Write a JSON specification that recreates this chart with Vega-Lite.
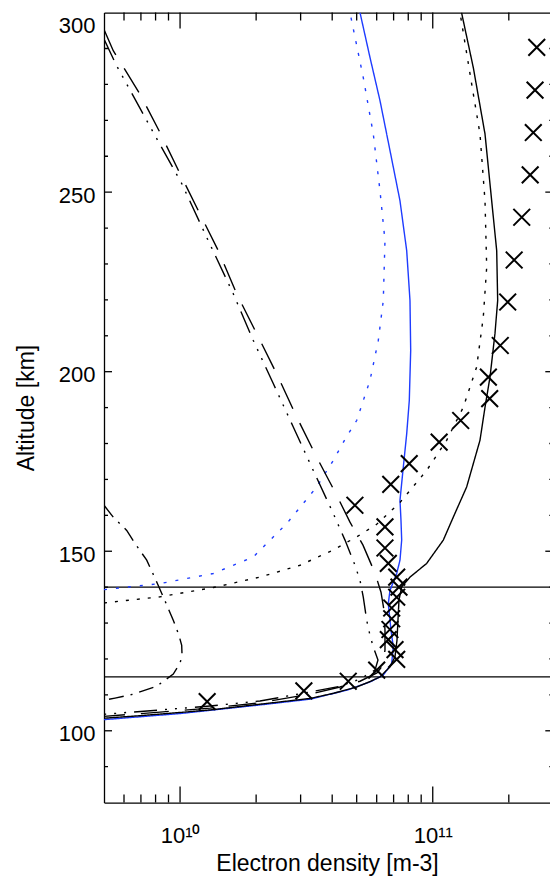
{
  "$schema": "https://vega.github.io/schema/vega-lite/v6.json",
  "width": 446,
  "height": 790,
  "autosize": "none",
  "padding": {"left": 104, "top": 12.6, "right": 0, "bottom": 79.4},
  "background": "white",
  "config": {
    "view": {"stroke": null},
    "axis": {
      "grid": false,
      "labelFont": "Liberation Sans",
      "titleFont": "Liberation Sans",
      "labelColor": "black",
      "titleColor": "black",
      "titleFontWeight": "normal",
      "labelFontWeight": "normal",
      "labelFontSize": 22,
      "titleFontSize": 23,
      "domainColor": "black",
      "domainWidth": 1.3
    }
  },
  "datasets": {
    "curves": [
      {"s": "blue_solid", "n": 5.0e9, "alt": 103.1},
      {"s": "blue_solid", "n": 1.0e10, "alt": 104.8},
      {"s": "blue_solid", "n": 2.072e10, "alt": 107.2},
      {"s": "blue_solid", "n": 3.267e10, "alt": 108.8},
      {"s": "blue_solid", "n": 4.565e10, "alt": 111.3},
      {"s": "blue_solid", "n": 5.645e10, "alt": 113.6},
      {"s": "blue_solid", "n": 6.372e10, "alt": 115.5},
      {"s": "blue_solid", "n": 6.879e10, "alt": 118.8},
      {"s": "blue_solid", "n": 6.98e10, "alt": 123.4},
      {"s": "blue_solid", "n": 6.835e10, "alt": 128.0},
      {"s": "blue_solid", "n": 6.773e10, "alt": 130.8},
      {"s": "blue_solid", "n": 6.669e10, "alt": 135.4},
      {"s": "blue_solid", "n": 6.773e10, "alt": 139.1},
      {"s": "blue_solid", "n": 7.2e10, "alt": 143.8},
      {"s": "blue_solid", "n": 7.419e10, "alt": 147.5},
      {"s": "blue_solid", "n": 7.535e10, "alt": 153.1},
      {"s": "blue_solid", "n": 7.487e10, "alt": 158.6},
      {"s": "blue_solid", "n": 7.419e10, "alt": 164.2},
      {"s": "blue_solid", "n": 7.646e10, "alt": 173.4},
      {"s": "blue_solid", "n": 7.887e10, "alt": 182.7},
      {"s": "blue_solid", "n": 8.076e10, "alt": 192.0},
      {"s": "blue_solid", "n": 8.179e10, "alt": 205.9},
      {"s": "blue_solid", "n": 8.127e10, "alt": 219.8},
      {"s": "blue_solid", "n": 7.887e10, "alt": 233.7},
      {"s": "blue_solid", "n": 7.419e10, "alt": 247.6},
      {"s": "blue_solid", "n": 6.773e10, "alt": 261.6},
      {"s": "blue_solid", "n": 6.183e10, "alt": 275.5},
      {"s": "blue_solid", "n": 5.645e10, "alt": 287.5},
      {"s": "blue_solid", "n": 5.153e10, "alt": 300.0},

      {"s": "black_solid", "n": 5.0e9, "alt": 103.5},
      {"s": "black_solid", "n": 6.94e9, "alt": 104.2},
      {"s": "black_solid", "n": 1.0e10, "alt": 105.1},
      {"s": "black_solid", "n": 1.314e10, "alt": 105.8},
      {"s": "black_solid", "n": 2.072e10, "alt": 107.4},
      {"s": "black_solid", "n": 3.267e10, "alt": 109.0},
      {"s": "black_solid", "n": 4.029e10, "alt": 110.4},
      {"s": "black_solid", "n": 5.0e10, "alt": 112.2},
      {"s": "black_solid", "n": 5.645e10, "alt": 113.7},
      {"s": "black_solid", "n": 6.183e10, "alt": 115.0},
      {"s": "black_solid", "n": 6.773e10, "alt": 117.8},
      {"s": "black_solid", "n": 7.089e10, "alt": 120.6},
      {"s": "black_solid", "n": 7.219e10, "alt": 125.2},
      {"s": "black_solid", "n": 7.285e10, "alt": 130.8},
      {"s": "black_solid", "n": 7.352e10, "alt": 136.4},
      {"s": "black_solid", "n": 7.535e10, "alt": 140.1},
      {"s": "black_solid", "n": 8.127e10, "alt": 142.8},
      {"s": "black_solid", "n": 9.46e10, "alt": 146.6},
      {"s": "black_solid", "n": 1.101e11, "alt": 153.1},
      {"s": "black_solid", "n": 1.206e11, "alt": 159.5},
      {"s": "black_solid", "n": 1.362e11, "alt": 167.9},
      {"s": "black_solid", "n": 1.538e11, "alt": 180.9},
      {"s": "black_solid", "n": 1.61e11, "alt": 190.1},
      {"s": "black_solid", "n": 1.685e11, "alt": 198.5},
      {"s": "black_solid", "n": 1.763e11, "alt": 210.6},
      {"s": "black_solid", "n": 1.807e11, "alt": 219.8},
      {"s": "black_solid", "n": 1.791e11, "alt": 233.7},
      {"s": "black_solid", "n": 1.711e11, "alt": 247.6},
      {"s": "black_solid", "n": 1.61e11, "alt": 266.2},
      {"s": "black_solid", "n": 1.447e11, "alt": 284.7},
      {"s": "black_solid", "n": 1.3e11, "alt": 300.0},

      {"s": "black_dotted", "n": 5.0e9, "alt": 135.6},
      {"s": "black_dotted", "n": 8.33e9, "alt": 137.3},
      {"s": "black_dotted", "n": 1.354e10, "alt": 139.9},
      {"s": "black_dotted", "n": 2.072e10, "alt": 142.8},
      {"s": "black_dotted", "n": 2.983e10, "alt": 146.1},
      {"s": "black_dotted", "n": 4.029e10, "alt": 150.3},
      {"s": "black_dotted", "n": 5.0e10, "alt": 154.0},
      {"s": "black_dotted", "n": 6.0e10, "alt": 157.5},
      {"s": "black_dotted", "n": 7.419e10, "alt": 163.6},
      {"s": "black_dotted", "n": 9.46e10, "alt": 172.5},
      {"s": "black_dotted", "n": 1.135e11, "alt": 180.9},
      {"s": "black_dotted", "n": 1.321e11, "alt": 190.1},
      {"s": "black_dotted", "n": 1.492e11, "alt": 201.3},
      {"s": "black_dotted", "n": 1.585e11, "alt": 215.2},
      {"s": "black_dotted", "n": 1.635e11, "alt": 229.1},
      {"s": "black_dotted", "n": 1.61e11, "alt": 247.6},
      {"s": "black_dotted", "n": 1.538e11, "alt": 266.2},
      {"s": "black_dotted", "n": 1.426e11, "alt": 280.1},
      {"s": "black_dotted", "n": 1.282e11, "alt": 300.0},

      {"s": "blue_dotted", "n": 5.0e9, "alt": 139.3},
      {"s": "blue_dotted", "n": 8.33e9, "alt": 141.0},
      {"s": "blue_dotted", "n": 1.354e10, "alt": 143.8},
      {"s": "blue_dotted", "n": 1.949e10, "alt": 148.4},
      {"s": "blue_dotted", "n": 2.642e10, "alt": 157.7},
      {"s": "blue_dotted", "n": 2.983e10, "alt": 162.2},
      {"s": "blue_dotted", "n": 3.473e10, "alt": 167.9},
      {"s": "blue_dotted", "n": 4.04e10, "alt": 175.3},
      {"s": "blue_dotted", "n": 4.565e10, "alt": 182.0},
      {"s": "blue_dotted", "n": 5.0e10, "alt": 186.4},
      {"s": "blue_dotted", "n": 5.645e10, "alt": 197.6},
      {"s": "blue_dotted", "n": 6.088e10, "alt": 208.7},
      {"s": "blue_dotted", "n": 6.372e10, "alt": 219.8},
      {"s": "blue_dotted", "n": 6.471e10, "alt": 236.5},
      {"s": "blue_dotted", "n": 6.183e10, "alt": 250.4},
      {"s": "blue_dotted", "n": 5.817e10, "alt": 266.2},
      {"s": "blue_dotted", "n": 5.31e10, "alt": 281.9},
      {"s": "blue_dotted", "n": 4.704e10, "alt": 300.0},

      {"s": "black_longdash", "n": 5.0e9, "alt": 295.3},
      {"s": "black_longdash", "n": 5.44e9, "alt": 289.4},
      {"s": "black_longdash", "n": 6.94e9, "alt": 277.3},
      {"s": "black_longdash", "n": 8.33e9, "alt": 266.6},
      {"s": "black_longdash", "n": 1.0e10, "alt": 255.1},
      {"s": "black_longdash", "n": 1.199e10, "alt": 243.9},
      {"s": "black_longdash", "n": 1.417e10, "alt": 233.7},
      {"s": "black_longdash", "n": 1.675e10, "alt": 221.7},
      {"s": "black_longdash", "n": 2.01e10, "alt": 210.6},
      {"s": "black_longdash", "n": 2.412e10, "alt": 199.4},
      {"s": "black_longdash", "n": 2.894e10, "alt": 187.4},
      {"s": "black_longdash", "n": 3.473e10, "alt": 176.2},
      {"s": "black_longdash", "n": 4.167e10, "alt": 165.6},
      {"s": "black_longdash", "n": 4.704e10, "alt": 158.1},
      {"s": "black_longdash", "n": 5.296e10, "alt": 151.7},
      {"s": "black_longdash", "n": 5.908e10, "alt": 143.9},
      {"s": "black_longdash", "n": 6.24e10, "alt": 138.6},
      {"s": "black_longdash", "n": 6.413e10, "alt": 133.6},
      {"s": "black_longdash", "n": 6.471e10, "alt": 128.0},
      {"s": "black_longdash", "n": 6.471e10, "alt": 122.5},
      {"s": "black_longdash", "n": 6.354e10, "alt": 118.3},
      {"s": "black_longdash", "n": 6.016e10, "alt": 116.1},
      {"s": "black_longdash", "n": 5.153e10, "alt": 113.8},
      {"s": "black_longdash", "n": 4.294e10, "alt": 112.2},
      {"s": "black_longdash", "n": 3.267e10, "alt": 110.2},
      {"s": "black_longdash", "n": 2.072e10, "alt": 107.8},
      {"s": "black_longdash", "n": 1.314e10, "alt": 106.3},
      {"s": "black_longdash", "n": 8.33e9, "alt": 105.2},
      {"s": "black_longdash", "n": 5.0e9, "alt": 104.0},

      {"s": "black_dashdotdot", "n": 5.0e9, "alt": 292.6},
      {"s": "black_dashdotdot", "n": 5.61e9, "alt": 285.2},
      {"s": "black_dashdotdot", "n": 7.84e9, "alt": 266.6},
      {"s": "black_dashdotdot", "n": 1.015e10, "alt": 252.4},
      {"s": "black_dashdotdot", "n": 1.275e10, "alt": 237.4},
      {"s": "black_dashdotdot", "n": 1.624e10, "alt": 221.7},
      {"s": "black_dashdotdot", "n": 1.949e10, "alt": 208.7},
      {"s": "black_dashdotdot", "n": 2.338e10, "alt": 196.7},
      {"s": "black_dashdotdot", "n": 2.806e10, "alt": 184.6},
      {"s": "black_dashdotdot", "n": 3.367e10, "alt": 172.5},
      {"s": "black_dashdotdot", "n": 4.04e10, "alt": 160.5},
      {"s": "black_dashdotdot", "n": 4.495e10, "alt": 153.1},
      {"s": "black_dashdotdot", "n": 4.923e10, "alt": 146.1},
      {"s": "black_dashdotdot", "n": 5.153e10, "alt": 141.9},
      {"s": "black_dashdotdot", "n": 5.31e10, "alt": 137.2},
      {"s": "black_dashdotdot", "n": 5.477e10, "alt": 130.8},
      {"s": "black_dashdotdot", "n": 5.645e10, "alt": 126.6},
      {"s": "black_dashdotdot", "n": 5.817e10, "alt": 123.3},
      {"s": "black_dashdotdot", "n": 6.071e10, "alt": 119.7},
      {"s": "black_dashdotdot", "n": 5.908e10, "alt": 116.9},
      {"s": "black_dashdotdot", "n": 5.153e10, "alt": 114.4},
      {"s": "black_dashdotdot", "n": 4.294e10, "alt": 112.4},
      {"s": "black_dashdotdot", "n": 3.267e10, "alt": 110.8},
      {"s": "black_dashdotdot", "n": 2.072e10, "alt": 108.3},
      {"s": "black_dashdotdot", "n": 1.314e10, "alt": 106.9},
      {"s": "black_dashdotdot", "n": 8.33e9, "alt": 105.8},
      {"s": "black_dashdotdot", "n": 5.0e9, "alt": 104.6},

      {"s": "black_dashdot", "n": 5.0e9, "alt": 162.8},
      {"s": "black_dashdot", "n": 5.44e9, "alt": 159.5},
      {"s": "black_dashdot", "n": 6.15e9, "alt": 155.8},
      {"s": "black_dashdot", "n": 6.63e9, "alt": 152.2},
      {"s": "black_dashdot", "n": 7.38e9, "alt": 147.5},
      {"s": "black_dashdot", "n": 7.96e9, "alt": 142.5},
      {"s": "black_dashdot", "n": 8.58e9, "alt": 137.3},
      {"s": "black_dashdot", "n": 9.4e9, "alt": 130.8},
      {"s": "black_dashdot", "n": 9.9e9, "alt": 126.6},
      {"s": "black_dashdot", "n": 1.015e10, "alt": 123.8},
      {"s": "black_dashdot", "n": 1.018e10, "alt": 121.1},
      {"s": "black_dashdot", "n": 1.0e10, "alt": 118.8},
      {"s": "black_dashdot", "n": 9.4e9, "alt": 115.8},
      {"s": "black_dashdot", "n": 8.08e9, "alt": 112.4},
      {"s": "black_dashdot", "n": 6.53e9, "alt": 110.2},
      {"s": "black_dashdot", "n": 5.53e9, "alt": 109.1},
      {"s": "black_dashdot", "n": 5.0e9, "alt": 108.5}
    ],
    "crosses": [
      {"n": 2.58e11, "alt": 290.3},
      {"n": 2.54e11, "alt": 278.4},
      {"n": 2.5e11, "alt": 266.6},
      {"n": 2.43e11, "alt": 254.8},
      {"n": 2.25e11, "alt": 243.0},
      {"n": 2.1e11, "alt": 231.1},
      {"n": 1.98e11, "alt": 219.4},
      {"n": 1.85e11, "alt": 207.3},
      {"n": 1.66e11, "alt": 198.5},
      {"n": 1.68e11, "alt": 192.5},
      {"n": 1.29e11, "alt": 186.4},
      {"n": 1.06e11, "alt": 180.4},
      {"n": 8.07e10, "alt": 174.4},
      {"n": 6.82e10, "alt": 168.6},
      {"n": 4.92e10, "alt": 162.8},
      {"n": 6.47e10, "alt": 156.8},
      {"n": 6.47e10, "alt": 150.9},
      {"n": 6.67e10, "alt": 146.6},
      {"n": 7.2e10, "alt": 142.8},
      {"n": 7.35e10, "alt": 140.0},
      {"n": 7.2e10, "alt": 137.2},
      {"n": 6.88e10, "alt": 134.2},
      {"n": 6.88e10, "alt": 131.2},
      {"n": 6.77e10, "alt": 128.2},
      {"n": 6.67e10, "alt": 125.4},
      {"n": 7.09e10, "alt": 122.6},
      {"n": 7.2e10, "alt": 119.9},
      {"n": 6.0e10, "alt": 116.9},
      {"n": 4.63e10, "alt": 113.8},
      {"n": 3.09e10, "alt": 111.1},
      {"n": 1.28e10, "alt": 108.1}
    ],
    "levels": [
      {"alt": 140},
      {"alt": 115}
    ],
    "xmajor": [{"v": 1e10}, {"v": 1e11}],
    "xminor": [{"v": 6e9}, {"v": 7e9}, {"v": 8e9}, {"v": 9e9}, {"v": 2e10}, {"v": 3e10}, {"v": 4e10}, {"v": 5e10}, {"v": 6e10}, {"v": 7e10}, {"v": 8e10}, {"v": 9e10}, {"v": 2e11}],
    "ymajor": [{"v": 100}, {"v": 150}, {"v": 200}, {"v": 250}],
    "yminor": [{"v": 90}, {"v": 110}, {"v": 120}, {"v": 130}, {"v": 140}, {"v": 160}, {"v": 170}, {"v": 180}, {"v": 190}, {"v": 210}, {"v": 220}, {"v": 230}, {"v": 240}, {"v": 260}, {"v": 270}, {"v": 280}, {"v": 290}]
  },
  "layer": [
    {
      "data": {"name": "levels"},
      "mark": {"type": "rule", "color": "black", "strokeWidth": 1.3},
      "encoding": {
        "y": {"field": "alt", "type": "quantitative", "scale": {"domain": [80, 300], "nice": false, "zero": false}, "axis": null}
      }
    },
    {
      "data": {"name": "curves"},
      "transform": [{"filter": {"field": "s", "oneOf": ["blue_solid", "black_solid"]}}],
      "mark": {"type": "line", "strokeWidth": 1.4, "clip": true},
      "encoding": {
        "x": {
          "field": "n", "type": "quantitative",
          "scale": {"type": "log", "domain": [5e9, 2.911e11], "nice": false},
          "axis": {
            "orient": "bottom",
            "values": [1e10, 1e11],
            "ticks": false,
            "tickSize": 0,
            "domain": true,
            "domainColor": "black",
            "domainWidth": 1.3,
            "labelExpr": "datum.value == 1e10 ? '10\u00b9\u2070' : (datum.value == 1e11 ? '10\u00b9\u00b9' : '')",
            "labelFont": "Liberation Sans",
            "labelFontSize": 22,
            "labelFontWeight": "normal",
            "labelColor": "black",
            "labelPadding": 23,
            "labelFlush": false,
            "labelOverlap": false,
            "title": "Electron density [m-3]",
            "titleFont": "Liberation Sans",
            "titleFontSize": 23,
            "titleFontWeight": "normal",
            "titleColor": "black",
            "titlePadding": 6
          }
        },
        "y": {
          "field": "alt", "type": "quantitative",
          "scale": {"domain": [80, 300], "nice": false, "zero": false},
          "axis": {
            "orient": "left",
            "values": [100, 150, 200, 250, 300],
            "ticks": false,
            "tickSize": 0,
            "domain": true,
            "domainColor": "black",
            "domainWidth": 1.3,
            "labelFont": "Liberation Sans",
            "labelFontSize": 22,
            "labelFontWeight": "normal",
            "labelColor": "black",
            "labelPadding": 9,
            "labelOffset": 3,
            "labelFlush": true,
            "labelOverlap": false,
            "title": "Altitude [km]",
            "titleFont": "Liberation Sans",
            "titleFontSize": 23,
            "titleFontWeight": "normal",
            "titleColor": "black",
            "titlePadding": 20
          }
        },
        "color": {
          "field": "s", "type": "nominal", "legend": null,
          "scale": {
            "domain": ["blue_solid", "black_solid", "black_dotted", "blue_dotted", "black_longdash", "black_dashdotdot", "black_dashdot"],
            "range": ["#1e3cff", "black", "black", "#1e3cff", "black", "black", "black"]
          }
        },
        "strokeDash": {
          "field": "s", "type": "nominal", "legend": null,
          "scale": {
            "domain": ["blue_solid", "black_solid", "black_dotted", "blue_dotted", "black_longdash", "black_dashdotdot", "black_dashdot"],
            "range": [[1, 0], [1, 0], [3, 8], [3, 9], [28, 16], [23, 8, 2, 8, 2, 8, 2, 8], [15, 7, 2, 7]]
          }
        },
        "order": {"value": null}
      }
    },
    {
      "data": {"name": "curves"},
      "transform": [{"filter": {"field": "s", "oneOf": ["black_dotted", "blue_dotted"]}}],
      "mark": {"type": "line", "strokeWidth": 1.4, "clip": true},
      "encoding": {
        "x": {
          "field": "n", "type": "quantitative",
          "scale": {"type": "log", "domain": [5e9, 2.911e11], "nice": false},
          "axis": {
            "orient": "bottom",
            "offset": -790,
            "values": [1e10, 1e11],
            "ticks": false,
            "labels": false,
            "domain": true,
            "domainColor": "black",
            "domainWidth": 1.3,
            "title": null
          }
        },
        "y": {
          "field": "alt", "type": "quantitative",
          "scale": {"domain": [80, 300], "nice": false, "zero": false},
          "axis": null
        },
        "color": {
          "field": "s", "type": "nominal", "legend": null,
          "scale": {
            "domain": ["blue_solid", "black_solid", "black_dotted", "blue_dotted", "black_longdash", "black_dashdotdot", "black_dashdot"],
            "range": ["#1e3cff", "black", "black", "#1e3cff", "black", "black", "black"]
          }
        },
        "strokeDash": {
          "field": "s", "type": "nominal", "legend": null,
          "scale": {
            "domain": ["blue_solid", "black_solid", "black_dotted", "blue_dotted", "black_longdash", "black_dashdotdot", "black_dashdot"],
            "range": [[1, 0], [1, 0], [3, 8], [3, 9], [28, 16], [23, 8, 2, 8, 2, 8, 2, 8], [15, 7, 2, 7]]
          }
        },
        "order": {"value": null}
      }
    },
    {
      "data": {"name": "curves"},
      "transform": [{"filter": {"field": "s", "oneOf": ["black_longdash", "black_dashdotdot", "black_dashdot"]}}],
      "mark": {"type": "line", "strokeWidth": 1.4, "clip": true},
      "encoding": {
        "x": {
          "field": "n", "type": "quantitative",
          "scale": {"type": "log", "domain": [5e9, 2.911e11], "nice": false},
          "axis": null
        },
        "y": {
          "field": "alt", "type": "quantitative",
          "scale": {"domain": [80, 300], "nice": false, "zero": false},
          "axis": null
        },
        "color": {
          "field": "s", "type": "nominal", "legend": null,
          "scale": {
            "domain": ["blue_solid", "black_solid", "black_dotted", "blue_dotted", "black_longdash", "black_dashdotdot", "black_dashdot"],
            "range": ["#1e3cff", "black", "black", "#1e3cff", "black", "black", "black"]
          }
        },
        "strokeDash": {
          "field": "s", "type": "nominal", "legend": null,
          "scale": {
            "domain": ["blue_solid", "black_solid", "black_dotted", "blue_dotted", "black_longdash", "black_dashdotdot", "black_dashdot"],
            "range": [[1, 0], [1, 0], [3, 8], [3, 9], [28, 16], [23, 8, 2, 8, 2, 8, 2, 8], [15, 7, 2, 7]]
          }
        },
        "order": {"value": null}
      }
    },
    {
      "data": {"name": "crosses"},
      "mark": {"type": "point", "shape": "M-1,-1L1,1M-1,1L1,-1", "filled": false, "stroke": "black", "strokeWidth": 2, "size": 280, "opacity": 1},
      "encoding": {
        "x": {"field": "n", "type": "quantitative", "scale": {"type": "log", "domain": [5e9, 2.911e11], "nice": false}, "axis": null},
        "y": {"field": "alt", "type": "quantitative", "scale": {"domain": [80, 300], "nice": false, "zero": false}, "axis": null}
      }
    },
    {
      "data": {"name": "xmajor"},
      "mark": {"type": "tick", "orient": "vertical", "size": 32, "thickness": 1.3, "color": "black", "opacity": 1, "clip": true},
      "encoding": {
        "x": {"field": "v", "type": "quantitative", "axis": null},
        "y": {"datum": 80, "type": "quantitative", "axis": null}
      }
    },
    {
      "data": {"name": "xmajor"},
      "mark": {"type": "tick", "orient": "vertical", "size": 32, "thickness": 1.3, "color": "black", "opacity": 1, "clip": true},
      "encoding": {
        "x": {"field": "v", "type": "quantitative", "axis": null},
        "y": {"datum": 300, "type": "quantitative", "axis": null}
      }
    },
    {
      "data": {"name": "xminor"},
      "mark": {"type": "tick", "orient": "vertical", "size": 16, "thickness": 1.3, "color": "black", "opacity": 1, "clip": true},
      "encoding": {
        "x": {"field": "v", "type": "quantitative", "axis": null},
        "y": {"datum": 80, "type": "quantitative", "axis": null}
      }
    },
    {
      "data": {"name": "xminor"},
      "mark": {"type": "tick", "orient": "vertical", "size": 16, "thickness": 1.3, "color": "black", "opacity": 1, "clip": true},
      "encoding": {
        "x": {"field": "v", "type": "quantitative", "axis": null},
        "y": {"datum": 300, "type": "quantitative", "axis": null}
      }
    },
    {
      "data": {"name": "ymajor"},
      "mark": {"type": "tick", "orient": "horizontal", "size": 16, "thickness": 1.3, "color": "black", "opacity": 1, "clip": true},
      "encoding": {
        "y": {"field": "v", "type": "quantitative", "axis": null},
        "x": {"datum": 5e9, "type": "quantitative", "axis": null}
      }
    },
    {
      "data": {"name": "ymajor"},
      "mark": {"type": "tick", "orient": "horizontal", "size": 16, "thickness": 1.3, "color": "black", "opacity": 1, "clip": true},
      "encoding": {
        "y": {"field": "v", "type": "quantitative", "axis": null},
        "x": {"datum": 3e11, "type": "quantitative", "axis": null}
      }
    },
    {
      "data": {"name": "yminor"},
      "mark": {"type": "tick", "orient": "horizontal", "size": 8, "thickness": 1.3, "color": "black", "opacity": 1, "clip": true},
      "encoding": {
        "y": {"field": "v", "type": "quantitative", "axis": null},
        "x": {"datum": 5e9, "type": "quantitative", "axis": null}
      }
    },
    {
      "data": {"name": "yminor"},
      "mark": {"type": "tick", "orient": "horizontal", "size": 8, "thickness": 1.3, "color": "black", "opacity": 1, "clip": true},
      "encoding": {
        "y": {"field": "v", "type": "quantitative", "axis": null},
        "x": {"datum": 3e11, "type": "quantitative", "axis": null}
      }
    }
  ],
  "resolve": {"axis": {"x": "independent", "y": "independent"}}
}
